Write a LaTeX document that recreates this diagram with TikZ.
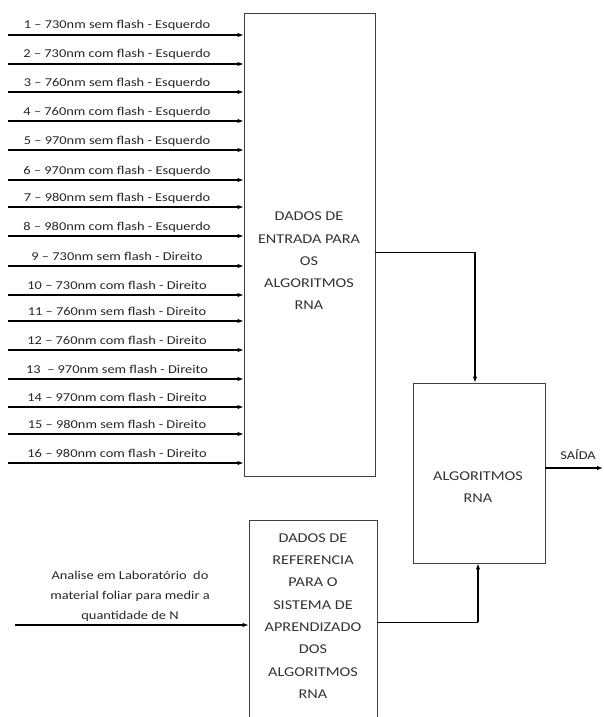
\documentclass[tikz,border=0pt]{standalone}
\usepackage{fontspec}
\setmainfont[FakeStretch=1.2]{Carlito}
\usetikzlibrary{arrows.meta}
\begin{document}
\begin{tikzpicture}[x=1pt,y=-1pt,
  box/.style={draw=black!75,line width=0.9pt,inner sep=0pt},
  arr/.style={line width=1.1pt,-{Latex[length=6pt,width=4.5pt]}},
  wire/.style={line width=0.9pt},
  inlbl/.style={anchor=base,font=\fontsize{12}{14}\selectfont,text=black!85,inner sep=0pt},
  boxtxt/.style={align=center,font=\fontsize{13.5}{22.3}\selectfont,text=black!80},
  labtxt/.style={align=center,font=\fontsize{12}{20}\selectfont,text=black!85}]
\useasboundingbox (0,0) rectangle (604,717);
\clip (0,0) rectangle (604,717);
% boxes
\node[box,minimum width=131pt,minimum height=463pt] (in) at (309.5,244.5) {};
\node[box,minimum width=132pt,minimum height=180pt] (alg) at (479,473) {};
\node[box,minimum width=128pt,minimum height=220pt] (ref) at (313,630) {};
% box texts
\node[boxtxt] (intxt) at (309,261) {DADOS DE\\ENTRADA PARA\\OS\\ALGORITMOS\\RNA};
\node[boxtxt] (algtxt) at (478,487) {ALGORITMOS\\RNA};
\node[boxtxt] (reftxt) at (313,616) {DADOS DE\\REFERENCIA\\PARA O\\SISTEMA DE\\APRENDIZADO\\DOS\\ALGORITMOS\\RNA};
% inputs
\foreach \i/\yy/\t in {
 1/35/{1 – 730nm sem flash - Esquerdo},
 2/64/{2 – 730nm com flash - Esquerdo},
 3/92/{3 – 760nm sem flash - Esquerdo},
 4/121/{4 – 760nm com flash - Esquerdo},
 5/150/{5 – 970nm sem flash - Esquerdo},
 6/180/{6 – 970nm com flash - Esquerdo},
 7/207/{7 – 980nm sem flash - Esquerdo},
 8/236/{8 – 980nm com flash - Esquerdo},
 9/266/{9 – 730nm sem flash - Direito},
 10/295/{10 – 730nm com flash - Direito},
 11/321/{11 – 760nm sem flash - Direito},
 12/350/{12 – 760nm com flash - Direito},
 13/379/{13 \ – 970nm sem flash - Direito},
 14/407/{14 – 970nm com flash - Direito},
 15/434/{15 – 980nm sem flash - Direito},
 16/463/{16 – 980nm com flash - Direito}}{
  \coordinate (s\i) at (8,\yy);
  \draw[arr] (s\i) -- (s\i -| in.west);
  \node[inlbl] (l\i) at (117,\yy-6) {\t};
}
% connectors to ALGORITMOS
\coordinate (j1) at (475,252);
\draw[wire] (j1 -| in.east) -- (j1);
\draw[arr] (j1) -- (j1 |- alg.north);
\coordinate (j2) at (478,622);
\draw[wire] (j2 -| ref.east) -- (j2);
\draw[arr] (j2) -- (j2 |- alg.south);
% output
\coordinate (out) at (603,468);
\draw[arr] (out -| alg.east) -- (out);
\node[font=\fontsize{12}{14}\selectfont,text=black!85] (saida) at (578,455) {SAÍDA};
% lab input
\coordinate (labs) at (15,625);
\draw[arr] (labs) -- (labs -| ref.west);
\node[labtxt] (labtxt) at (130,596) {Analise em Laboratório \ do\\material foliar para medir a\\quantidade de N};
\end{tikzpicture}
\end{document}
